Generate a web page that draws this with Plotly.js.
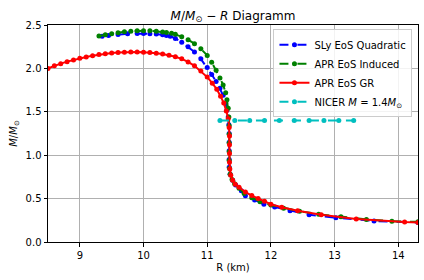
<!DOCTYPE html>
<html><head><meta charset="utf-8">
<script src="https://cdn.plot.ly/plotly-3.0.1.min.js"></script>
<style>html,body{margin:0;padding:0;background:#fff}#plot{width:424px;height:280px}</style>
</head><body><div id="plot"></div>
<script>
const slyR = [9.35,9.45,9.6,9.75,9.9,10.0,10.1,10.2,10.3,10.36,null,10.42,10.5,10.6,10.7,10.8,10.9,11.0,11.07,11.14,11.2,11.25,11.29,11.31,11.33,11.34,11.345,11.345,11.345,11.345,11.345,11.36,11.40,11.447,11.536,11.60,11.745,11.89,12.06,12.30,12.60,13.02,13.62,14.31];
const slyM = [2.37,2.38,2.39,2.398,2.402,2.403,2.40,2.395,2.387,2.38,null,2.37,2.345,2.30,2.25,2.19,2.11,2.01,1.93,1.85,1.77,1.69,1.60,1.52,1.44,1.35,1.25,1.15,1.05,0.95,0.86,0.78,0.71,0.657,0.591,0.533,0.484,0.434,0.403,0.361,0.315,0.28,0.242,0.225];

const aprIndR = [9.30,9.40,9.50,9.60,9.70,9.80,9.90,10.0,10.1,10.2,10.3,10.36,null,10.44,10.5,10.6,10.7,10.8,10.9,11.0,11.07,11.14,11.2,11.25,11.29,11.31,11.33,11.34,11.345,11.345,11.345,11.345,11.345,11.35,11.36,11.39,11.43,11.50,11.58,11.70,11.83,12.0,12.2,12.45,12.75,13.1,13.5,13.9,14.31];
const aprIndM = [2.372,2.387,2.40,2.412,2.422,2.428,2.433,2.435,2.433,2.428,2.42,2.413,null,2.405,2.392,2.365,2.33,2.285,2.225,2.15,2.07,1.98,1.89,1.81,1.72,1.64,1.54,1.44,1.34,1.24,1.14,1.04,0.94,0.85,0.78,0.72,0.67,0.62,0.56,0.51,0.465,0.425,0.39,0.355,0.32,0.29,0.26,0.24,0.232];

const aprGrR = [8.50,8.60,8.70,8.80,8.90,9.00,9.10,9.20,9.30,9.40,9.50,9.60,9.70,9.80,9.90,10.00,10.10,10.20,10.30,10.40,10.50,10.60,10.70,10.80,10.90,11.00,11.08,11.15,11.21,11.26,11.30,11.33,11.345,11.35,11.35,11.35,11.35,11.355,11.37,11.40,11.44,11.50,11.60,11.70,11.80,11.90,12.00,12.17,12.42,12.79,13.34,14.10,14.31];
const aprGrM = [2.00,2.03,2.055,2.078,2.098,2.116,2.132,2.147,2.16,2.17,2.178,2.183,2.186,2.188,2.188,2.186,2.182,2.175,2.165,2.152,2.135,2.11,2.075,2.03,1.97,1.90,1.83,1.76,1.68,1.60,1.51,1.42,1.32,1.22,1.12,1.02,0.92,0.84,0.77,0.71,0.665,0.63,0.575,0.535,0.50,0.47,0.435,0.40,0.36,0.315,0.265,0.23,0.226];

const nicerR = [11.2,11.433,11.667,11.9,12.133,12.367,12.6,12.833,13.067,13.3];
const nicerM = [1.4,1.4,1.4,1.4,1.4,1.4,1.4,1.4,1.4,1.4];

const traces = [
  {x: slyR, y: slyM, name: 'SLy EoS Quadratic', mode: 'lines+markers',
   line: {color: '#0000ff', width: 2, dash: 'dash'}, marker: {color: '#0000ff', size: 5}},
  {x: aprIndR, y: aprIndM, name: 'APR EoS Induced', mode: 'lines+markers',
   line: {color: '#008000', width: 2, dash: 'dash'}, marker: {color: '#008000', size: 5}},
  {x: aprGrR, y: aprGrM, name: 'APR EoS GR', mode: 'lines+markers',
   line: {color: '#ff0000', width: 2}, marker: {color: '#ff0000', size: 5}},
  {x: nicerR, y: nicerM, name: 'NICER <i>M</i> = 1.4<i>M</i><sub>⊙</sub>', mode: 'lines+markers',
   line: {color: '#00bfbf', width: 2, dash: 'dash'}, marker: {color: '#00bfbf', size: 5}}
];

const layout = {
  width: 424, height: 280,
  margin: {l: 48, r: 6, t: 25, b: 38},
  paper_bgcolor: '#fff', plot_bgcolor: '#fff',
  font: {family: 'DejaVu Sans', size: 10, color: '#000'},
  title: {text: '<i>M</i>/<i>M</i><sub>⊙</sub> − <i>R</i> Diagramm', font: {size: 12, family: 'DejaVu Sans'},
    x: 0.5, xref: 'paper', yref: 'container', y: 0.945, yanchor: 'middle'},
  xaxis: {range: [8.5, 14.31], tickvals: [9,10,11,12,13,14], ticktext: ['9','10','11','12','13','14'],
    showgrid: true, gridcolor: '#b0b0b0', gridwidth: 1, zeroline: false,
    showline: true, linecolor: '#000', linewidth: 1, mirror: true,
    ticks: 'outside', ticklen: 3.5, tickcolor: '#000',
    title: {text: 'R (km)', font: {size: 10}, standoff: 4}},
  yaxis: {range: [0, 2.5], tickvals: [0,0.5,1,1.5,2,2.5], ticktext: ['0.0','0.5','1.0','1.5','2.0','2.5'],
    showgrid: true, gridcolor: '#b0b0b0', gridwidth: 1, zeroline: false,
    showline: true, linecolor: '#000', linewidth: 1, mirror: true,
    ticks: 'outside', ticklen: 3.5, tickcolor: '#000',
    title: {text: '<i>M</i>/<i>M</i><sub>⊙</sub>', font: {size: 10}, standoff: 6}},
  legend: {x: 0.985, y: 0.98, xanchor: 'right', yanchor: 'top',
    bgcolor: 'rgba(255,255,255,0.85)', bordercolor: '#cccccc', borderwidth: 1,
    font: {size: 10}, tracegroupgap: 0, itemwidth: 30},
  showlegend: true
};

Plotly.newPlot('plot', traces, layout, {staticPlot: true, displayModeBar: false});
</script></body></html>
